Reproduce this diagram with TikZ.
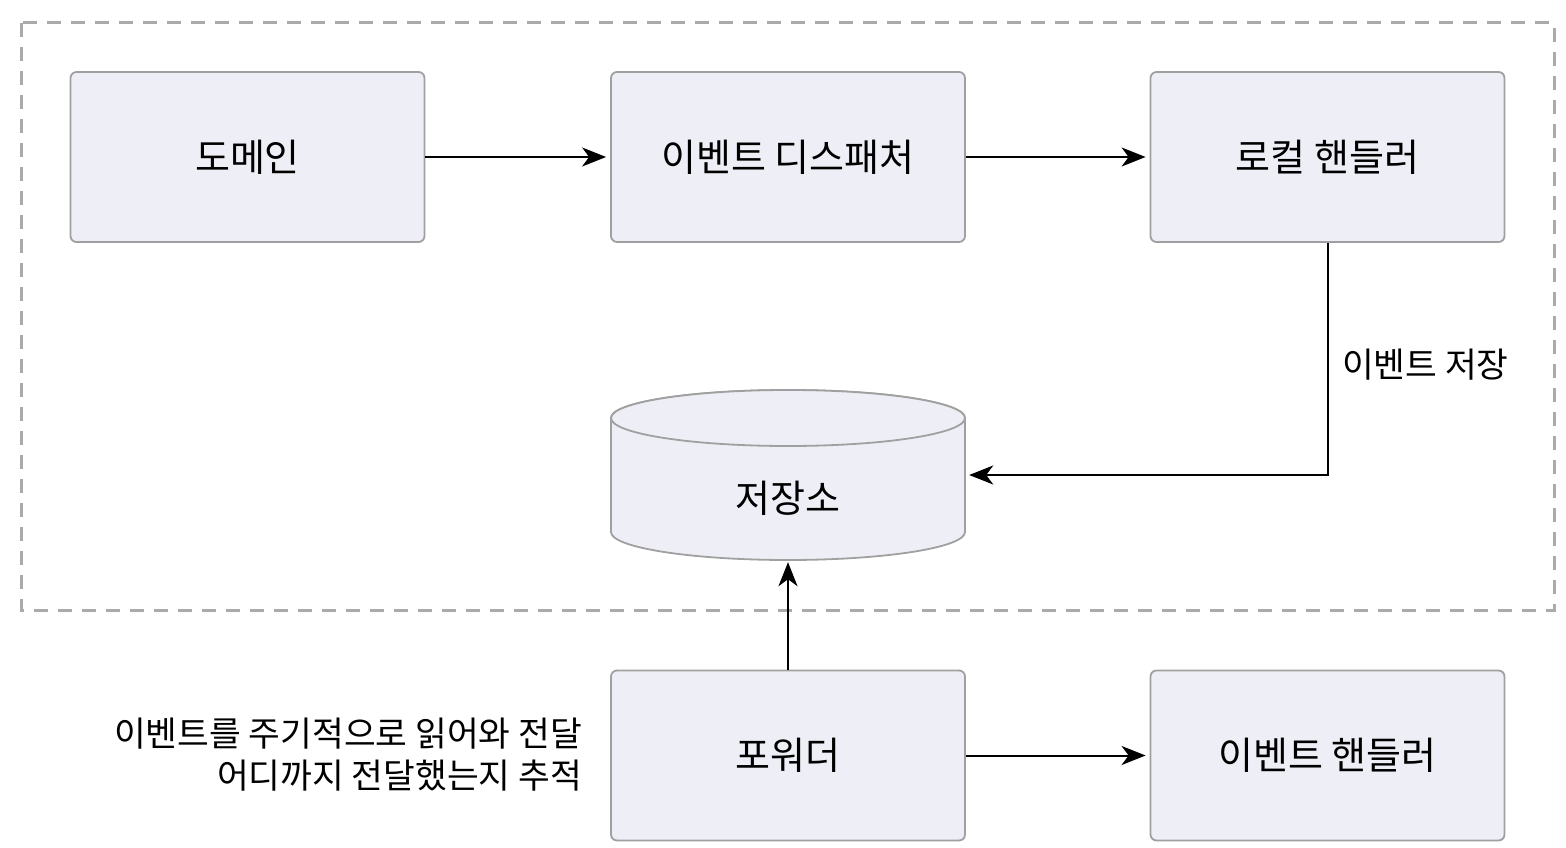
\documentclass[tikz,border=0pt]{standalone}
\usepackage{fontspec}
\setmainfont{Noto Sans CJK KR}
\usetikzlibrary{arrows.meta}
\definecolor{boxfill}{HTML}{EEEEF6}
\definecolor{boxborder}{HTML}{A0A0A0}
\definecolor{dashgray}{HTML}{AAAAAA}
\begin{document}
\begin{tikzpicture}[x=1pt,y=-1pt,
  box/.style={draw=boxborder, fill=boxfill, rounded corners=6pt, line width=1.8pt,
    minimum width=354pt, minimum height=170pt, inner sep=0pt,
    font=\fontsize{38}{44}\selectfont},
  conn/.style={-{Stealth[length=24pt,width=19pt,inset=7pt]}, line width=2pt, shorten >=4pt},
  lbl/.style={font=\fontsize{34.5}{42}\selectfont, inner sep=0pt}
]
\useasboundingbox (0,0) rectangle (1566,848);
\fill[white] (0,0) rectangle (1566,848);
% dashed frame
\draw[dashgray, line width=3pt, dash pattern=on 14pt off 10pt] (21,23) rectangle (1554,610);

\node[box] (domain) at (247.5,157) {도메인};
\node[box] (disp) at (788,157) {이벤트 디스패처};
\node[box] (local) at (1327.5,157) {로컬 핸들러};
\node[box] (fwd) at (788,755.5) {포워더};
\node[box] (evh) at (1327.5,755.5) {이벤트 핸들러};

% cylinder
\draw[boxborder, fill=boxfill, line width=1.8pt]
  (611,418) -- (611,532) arc[start angle=180, end angle=360, x radius=177pt, y radius=28pt]
  -- (965,418) arc[start angle=0, end angle=180, x radius=177pt, y radius=28pt] -- cycle;
\draw[boxborder, fill=boxfill, line width=1.8pt]
  (788,418) ellipse[x radius=177pt, y radius=28pt];
\node[minimum width=354pt, minimum height=170pt, inner sep=0pt] (store) at (788,475) {};
\node[font=\fontsize{38}{44}\selectfont, inner sep=0pt] (storelbl) at (788,498) {저장소};

% connectors
\draw[conn] (domain.east) -- (disp.west);
\draw[conn] (disp.east) -- (local.west);
\draw[conn] (local.south) |- (store.east);
\draw[conn, shorten >=2pt] (fwd.north) -- (store.south);
\draw[conn] (fwd.east) -- (evh.west);

\node[lbl, anchor=west] (lab1) at (1342,365) {이벤트 저장};
\node[lbl, anchor=east, align=right] (lab2) at (582,755) {이벤트를 주기적으로 읽어와 전달\\어디까지 전달했는지 추적};
\end{tikzpicture}
\end{document}
